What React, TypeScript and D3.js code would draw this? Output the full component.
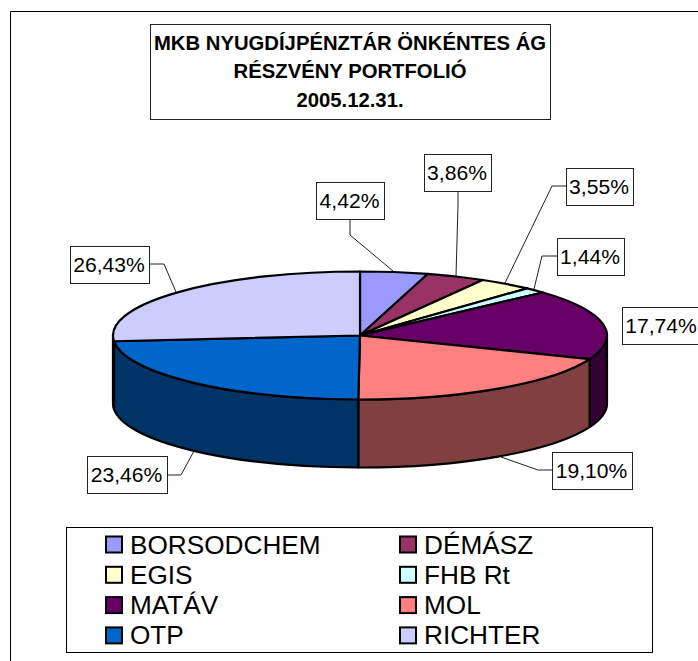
import React from "react";
import * as d3 from "d3";

const categories = ["BORSODCHEM", "DÉMÁSZ", "EGIS", "FHB Rt", "MATÁV", "MOL", "OTP", "RICHTER"];
const shares = [4.42, 3.86, 3.55, 1.44, 17.74, 19.1, 23.46, 26.43];
const shareLabels = ["4,42%", "3,86%", "3,55%", "1,44%", "17,74%", "19,10%", "23,46%", "26,43%"];
const topColors = ["#9999FF", "#993366", "#FFFFCC", "#CCFFFF", "#660066", "#FF8080", "#0066CC", "#CCCCFF"];
const sideColors = ["#4D4D80", "#4D1A33", "#808066", "#668080", "#330033", "#804040", "#003366", "#666680"];
const titleLines = ["MKB NYUGDÍJPÉNZTÁR ÖNKÉNTES ÁG", "RÉSZVÉNY PORTFOLIÓ", "2005.12.31."];

// label boxes [x, y, w] and leader polylines, same order as categories
const labelBoxes = [
  [316, 182, 68], [424, 154, 67], [566, 168, 67], [557, 238, 67],
  [622, 307, 79], [552, 452, 80], [87, 456, 80], [70, 246, 79],
];
const leaders: number[][][] = [
  [[350, 219], [350, 235], [393, 271]],
  [[458, 191], [458, 205], [456, 276]],
  [[566, 186], [552, 186], [505, 283]],
  [[557, 256], [542, 256], [534, 289]],
  [],
  [[552, 470], [538, 470], [501, 457]],
  [[167, 475], [181, 475], [194, 451]],
  [[149, 264], [164, 264], [176, 292]],
];

const W = 698, H = 661;
const cx = 360, cy = 335.5, rx = 247, ry = 64, depth = 68;
const FONT = "'Liberation Sans', Arial, sans-serif";

const pie = d3.pie<number>().sort(null).startAngle(0).endAngle(2 * Math.PI);
const arcs = pie(shares);
const px = d3.scaleLinear().domain([-1, 1]).range([cx - rx, cx + rx]);
const py = d3.scaleLinear().domain([-1, 1]).range([cy - ry, cy + ry]);
const pt = (a: number, dy = 0): [number, number] => [px(Math.sin(a)), py(-Math.cos(a)) + dy];

function topPath(a0: number, a1: number) {
  const [x0, y0] = pt(a0);
  const [x1, y1] = pt(a1);
  const large = a1 - a0 > Math.PI ? 1 : 0;
  return `M${cx},${cy}L${x0},${y0}A${rx},${ry} 0 ${large} 1 ${x1},${y1}Z`;
}

function sidePath(a0: number, a1: number) {
  const s = Math.max(a0, Math.PI / 2);
  const e = Math.min(a1, (3 * Math.PI) / 2);
  if (e <= s) return null;
  const [x0, y0] = pt(s);
  const [x1, y1] = pt(e);
  return `M${x0},${y0}A${rx},${ry} 0 0 1 ${x1},${y1}L${x1},${y1 + depth}A${rx},${ry} 0 0 0 ${x0},${y0 + depth}Z`;
}

const lineGen = d3.line();

export default function App() {
  return (
    <svg
      width={W}
      height={H}
      viewBox={`0 0 ${W} ${H}`}
      style={{ position: "absolute", left: 0, top: 0, display: "block", background: "#fff" }}
      fontFamily={FONT}
    >
      <path d={`M10.5,${H}V11.5H${W}`} fill="none" stroke="#000" strokeWidth={1} />

      <rect x={150.5} y={24.5} width={400} height={95} fill="#fff" stroke="#222" strokeWidth={1} />
      <g fontWeight={700} fontSize={20.3} textAnchor="middle" fill="#000">
        {titleLines.map((t, i) => (
          <text key={i} x={350} y={49.5 + i * 28.5}>{t}</text>
        ))}
      </g>

      {arcs.map((d, i) => {
        const p = sidePath(d.startAngle, d.endAngle);
        return p ? <path key={i} d={p} fill={sideColors[i]} stroke="#000" strokeWidth={2.2} strokeLinejoin="round" /> : null;
      })}
      {arcs.map((d, i) => (
        <path key={i} d={topPath(d.startAngle, d.endAngle)} fill={topColors[i]} stroke="#000" strokeWidth={2.2} strokeLinejoin="round" />
      ))}

      {leaders.map((l, i) =>
        l.length ? <path key={i} d={lineGen(l as [number, number][]) ?? ""} fill="none" stroke="#222" strokeWidth={1} /> : null
      )}
      {labelBoxes.map(([x, y, w], i) => (
        <g key={i}>
          <rect x={x + 0.5} y={y + 0.5} width={w} height={37} fill="#fff" stroke="#222" strokeWidth={1} />
          <text x={x + w / 2 - 0.5} y={y + 26} textAnchor="middle" fontSize={21.1} fill="#000">{shareLabels[i]}</text>
        </g>
      ))}

      <rect x={66.5} y={527.5} width={586} height={125} fill="#fff" stroke="#000" strokeWidth={1} />
      {categories.map((c, i) => {
        const col = i % 2, row = Math.floor(i / 2);
        const lx = col === 0 ? 106 : 400;
        const ly = 536.5 + row * 30.3;
        return (
          <g key={c}>
            <rect x={lx} y={ly} width={16} height={16} fill={topColors[i]} stroke="#000" strokeWidth={2} />
            <text x={lx + 24} y={ly + 17} fontSize={26.2} fill="#000">{c}</text>
          </g>
        );
      })}
    </svg>
  );
}
